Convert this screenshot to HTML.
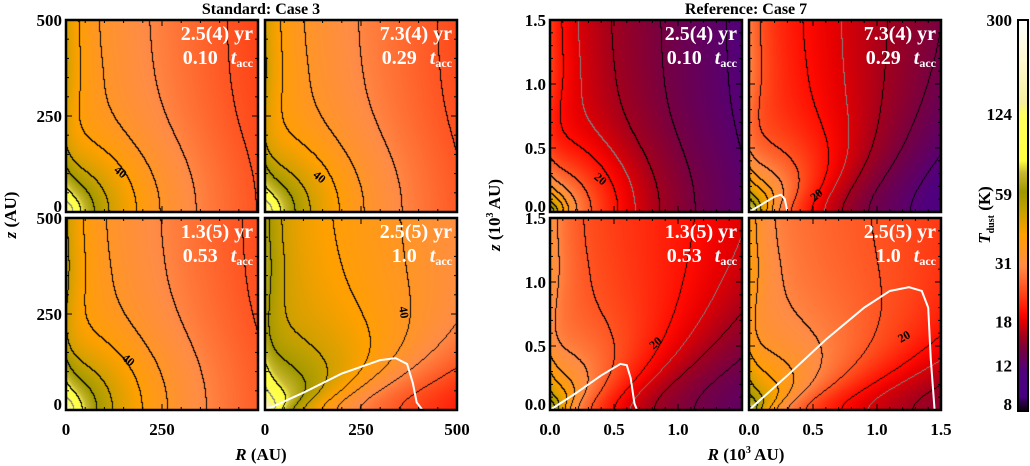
<!DOCTYPE html>
<html><head><meta charset="utf-8"><style>
body{margin:0;background:#fff;width:1030px;height:466px;overflow:hidden;position:relative;font-family:"Liberation Serif",serif}
canvas{position:absolute}
svg{position:absolute;left:0;top:0}
text{font-family:"Liberation Serif",serif;font-weight:bold}
</style></head><body>
<div id="maps"></div>
<svg id="ov" width="1030" height="466">
<text x="261" y="14" text-anchor="middle" font-size="16">Standard: Case 3</text>
<text x="746" y="14" text-anchor="middle" font-size="16">Reference: Case 7</text>
<text x="261" y="460" text-anchor="middle" font-size="17"><tspan font-style="italic">R</tspan> (AU)</text>
<text x="746" y="460" text-anchor="middle" font-size="17"><tspan font-style="italic">R</tspan> (10<tspan font-size="10" dy="-7">3</tspan><tspan dy="7"> AU)</tspan></text>
<text x="16" y="215" text-anchor="middle" font-size="17" transform="rotate(-90 16 215)"><tspan font-style="italic">z</tspan> (AU)</text>
<text x="500" y="215" text-anchor="middle" font-size="17" transform="rotate(-90 500 215)"><tspan font-style="italic">z</tspan> (10<tspan font-size="10" dy="-7">3</tspan><tspan dy="7"> AU)</tspan></text>
<text x="990" y="215" text-anchor="middle" font-size="17" transform="rotate(-90 990 215)"><tspan font-style="italic">T</tspan><tspan font-size="10" dy="4">dust</tspan><tspan dy="-4"> (K)</tspan></text>
<rect x="1018" y="20" width="10" height="391" fill="none" stroke="#000" stroke-width="2"/>
</svg>
<script>
// ---- data ----
const panelNames=["case3-t010","case3-t029","case3-t053","case3-t100","case7-t010","case7-t029","case7-t053","case7-t100"];
const panelTimes=["2.5(4) yr","7.3(4) yr","1.3(5) yr","2.5(5) yr","2.5(4) yr","7.3(4) yr","1.3(5) yr","2.5(5) yr"];
const panelTacc=["0.10","0.29","0.53","1.0","0.10","0.29","0.53","1.0"];
const panelRmax=[500,500,500,500,1500,1500,1500,1500];
const panelTref=[40,40,40,40,20,20,20,22];
const panelDref=[200,210,215,360,580,900,1600,2100];
const panelQ=[0.5,0.5,0.5,0.45,0.5,0.5,0.35,0.33];
const panelZc=[270,270,280,320,750,800,950,1050];
const panelCav=[0.35,0.35,0.4,0.45,0.3,0.35,0.35,0.35];
const panelAxis=[0.35,0.35,0.4,0.5,0.2,0.25,0.25,0.25];
const panelShadow=[0,0,0,0.38,0,0.28,0.38,0.38];
const panelShadowW=[0.3,0.3,0.3,0.35,0.3,0.5,0.55,0.4];
const contourLevels=[12,14,16,20,25,30,35,40,50,60,80];
const grayLevel=[110,110,110,110,18,18,18,18];
const cbTicks=[8,12,18,31,59,124,300];
const wall3=[[0,0],[100,45],[200,95],[300,130],[340,135],[370,120],[385,70],[395,20],[410,0]];
const wall7a=[[0,0],[100,60],[200,120],[250,135],[280,100],[300,0]];
const wall7b=[[0,0],[200,130],[400,270],[550,360],[600,350],[630,250],[660,50],[680,0]];
const wall7c=[[0,0],[300,270],[600,550],[900,800],[1100,930],[1250,960],[1350,930],[1400,800],[1420,400],[1450,0]];
const walls=[null,null,null,wall3,null,wall7a,wall7b,wall7c];
const contourLabelText=["40","40","40","40","20","20","20","20"];

var PX=[66,265,66,265,550,749,550,749], PY=[20,20,218,218,20,20,218,218], PW=192;
var LBL=[[52,155,40],[52,160,40],[60,145,40],[135,95,80],[48,162,40],[70,178,-40],[108,128,-40],[157,122,-30]];
var stops=[[0,[16,0,16]],[0.02,[40,0,70]],[0.035,[70,0,130]],[0.1,[80,0,125]],[0.15,[115,0,70]],[0.19,[160,0,30]],[0.23,[230,0,0]],[0.25,[255,10,0]],[0.3,[255,70,25]],[0.37,[255,140,70]],[0.45,[255,160,0]],[0.52,[190,160,0]],[0.56,[160,152,0]],[0.61,[200,185,50]],[0.64,[255,255,64]],[0.76,[255,255,96]],[0.79,[245,240,160]],[0.9,[255,250,210]],[1,[255,255,255]]];
function cmap(T){var s=Math.log(T/8)/Math.log(37.5);s=Math.max(0,Math.min(1,s));
 for(var i=1;i<stops.length;i++){if(s<=stops[i][0]){var a=stops[i-1],b=stops[i],f=(s-a[0])/(b[0]-a[0]);return [0,1,2].map(function(k){return a[1][k]+(b[1][k]-a[1][k])*f;});}}return [255,255,255];}
function field(i,R,z){var rm=panelRmax[i];var zc=panelZc[i];
 var ze=z/Math.pow(1+Math.pow(z/zc,4),0.25);
 var d=Math.sqrt(R*R+ze*ze)+0.03*rm;var T=panelTref[i]*Math.pow(d/panelDref[i],-panelQ[i]);
 var sm=Math.min(1,Math.max(0,(z-0.3*rm)/(0.5*rm)));sm=sm*sm*(3-2*sm);
 T*=1+panelCav[i]*Math.exp(-R/(0.1*rm))*sm;
 T*=1+panelAxis[i]*Math.exp(-R/(0.04*rm))*Math.exp(-z/(0.6*rm));
 var th=Math.atan2(z,R);T*=1-panelShadow[i]*Math.exp(-Math.pow(th/panelShadowW[i],2))*(1-Math.exp(-R/(0.2*rm)));
 return T;}
var NS='http://www.w3.org/2000/svg';
var ovl=document.getElementById('ov');
var mapsDiv=document.getElementById('maps');
function mk(tag,attrs,txt){var e=document.createElementNS(NS,tag);for(var k in attrs)e.setAttribute(k,attrs[k]);if(txt!=null)e.textContent=txt;ovl.appendChild(e);return e;}
function drawMaps(){
 for(var i=0;i<8;i++){
  var c=document.createElement('canvas');c.width=PW;c.height=PW;c.style.left=PX[i]+'px';c.style.top=PY[i]+'px';
  
  
  mapsDiv.appendChild(c);var ctx=c.getContext('2d');var im=ctx.createImageData(PW,PW);
  var Tg=[],L=[],G=[];var rm=panelRmax[i];
  for(var y=0;y<PW;y++)for(var x=0;x<PW;x++){var R=(x+0.5)/PW*rm,z=(PW-y-0.5)/PW*rm;var T=field(i,R,z);Tg.push(T);
   var n=0;for(var q=0;q<contourLevels.length;q++)if(contourLevels[q]<T)n++;L.push(n);G.push(T>grayLevel[i]?1:0);}
  for(var y2=0;y2<PW;y2++)for(var x2=0;x2<PW;x2++){var k=y2*PW+x2;var col=cmap(Tg[k]);
   var r=x2<PW-1?k+1:k,b=y2<PW-1?k+PW:k;
   if(G[k]!=G[r]||G[k]!=G[b])col=[128,128,128];else if(L[k]!=L[r]||L[k]!=L[b])col=[0,0,0];
   im.data[4*k]=col[0];im.data[4*k+1]=col[1];im.data[4*k+2]=col[2];im.data[4*k+3]=255;}
  ctx.putImageData(im,0,0);
 }
 var cb=document.createElement('canvas');cb.width=10;cb.height=391;cb.style.left='1018px';cb.style.top='20px';
 
 
 mapsDiv.appendChild(cb);var cx=cb.getContext('2d');
 for(var yy=0;yy<391;yy++){var TT=8*Math.pow(37.5,1-yy/390);var cc=cmap(TT);cx.fillStyle='rgb('+cc.map(Math.round).join(',')+')';cx.fillRect(0,yy,10,1);}
}
function drawOverlay(){
 for(var i=0;i<8;i++){(function(i){
  var x0=PX[i],y0=PY[i],rm=panelRmax[i];
  var sx=function(v){return x0+v/rm*PW;}, sy=function(v){return y0+PW-v/rm*PW;};
  if(walls[i]){
   var p=mk('polyline',{points:walls[i].map(function(q){return sx(q[0])+','+sy(q[1]);}).join(' '),fill:'none',stroke:'#fff','stroke-width':2});
   
   
  }
  var ticks=rm==500?[0,250,500]:[0,500,1000,1500];
  var minor=rm==500?50:100;
  for(var v=0;v<=rm;v+=minor){var l=ticks.indexOf(v)>=0?6:3;
   mk('line',{x1:sx(v),x2:sx(v),y1:y0+PW,y2:y0+PW-l,stroke:'#000','stroke-width':1});
   mk('line',{x1:sx(v),x2:sx(v),y1:y0,y2:y0+l,stroke:'#000','stroke-width':1});
   mk('line',{x1:x0,x2:x0+l,y1:sy(v),y2:sy(v),stroke:'#000','stroke-width':1});
   mk('line',{x1:x0+PW,x2:x0+PW-l,y1:sy(v),y2:sy(v),stroke:'#000','stroke-width':1});}
  var f=mk('rect',{x:x0,y:y0,width:PW,height:PW,fill:'none',stroke:'#000','stroke-width':2.5});
  
  
  var t1=mk('text',{x:x0+PW-5,y:y0+20,'text-anchor':'end',fill:'#fff','font-size':20},panelTimes[i]);
  
  
  var t2=mk('text',{x:x0+PW-5,y:y0+44,'text-anchor':'end',fill:'#fff','font-size':20});
  
  
  var s1=document.createElementNS(NS,'tspan');s1.textContent=panelTacc[i]+' ';t2.appendChild(s1);
  var s2=document.createElementNS(NS,'tspan');s2.setAttribute('font-style','italic');s2.setAttribute('dx','8');s2.textContent='t';t2.appendChild(s2);
  var s3=document.createElementNS(NS,'tspan');s3.setAttribute('font-size','12');s3.setAttribute('dy','3');s3.textContent='acc';t2.appendChild(s3);
  var lb=LBL[i];var lx=x0+lb[0],ly=y0+lb[1];
  var cl=mk('text',{x:lx,y:ly,'font-size':12,'font-weight':'normal',transform:'rotate('+lb[2]+' '+lx+' '+ly+')','text-anchor':'middle'},contourLabelText[i]);
  
  
  if(i%2==0){ticks.forEach(function(v){var lab=rm==500?String(v):(v/1000).toFixed(1);
   var t=mk('text',{x:x0-4,y:sy(v)+(v==0?0:6),'text-anchor':'end','font-size':17},lab);
   
   });}
  if(i==2||i==3||i==6||i==7){ticks.forEach(function(v){if((i==2||i==6)&&v==rm)return;var lab=rm==500?String(v):(v/1000).toFixed(1);
   var t=mk('text',{x:sx(v),y:y0+PW+25,'text-anchor':'middle','font-size':17},lab);
   
   });}
 })(i);}
 cbTicks.forEach(function(v){var y=20+390*(1-Math.log(v/8)/Math.log(37.5));
  var tt=mk('text',{x:1012,y:y+(v==300?6:v==8?0:5),'text-anchor':'end','font-size':17},String(v));
  
  });
}
try{drawMaps();}catch(e){console.log(e);}
try{drawOverlay();}catch(e){console.log(e);}
</script>
</body></html>
